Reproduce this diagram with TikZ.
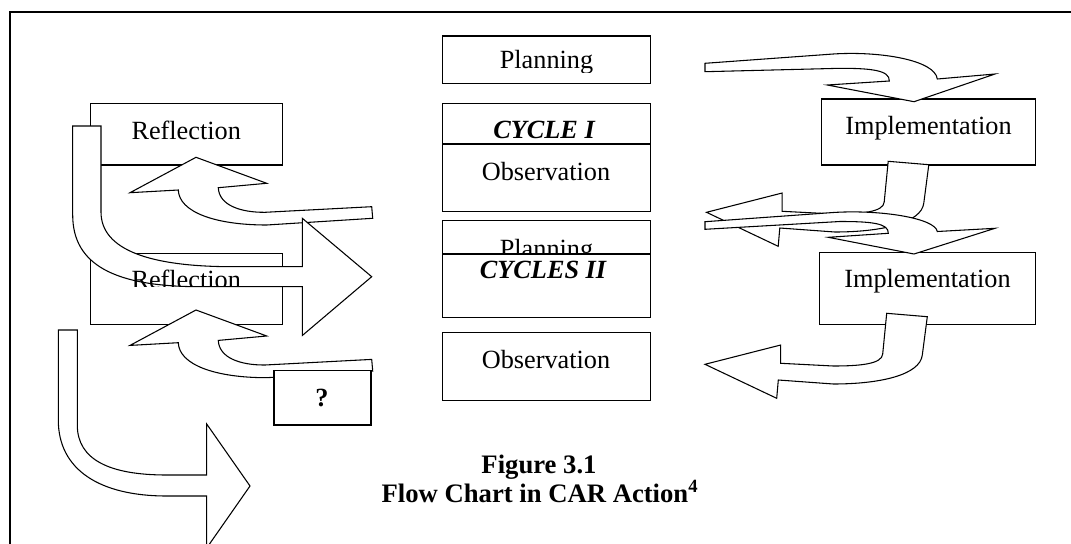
\documentclass[tikz,border=0pt]{standalone}
\usepackage{fontspec}
\setmainfont{Liberation Serif}
\usetikzlibrary{fit}
\tikzset{
  frameline/.style={line width=1.3pt},
  boxshape/.style={draw, line width=0.8pt, fill=white, inner sep=0pt, outer sep=0pt},
  boxtext/.style={anchor=base, inner sep=0pt, font=\fontsize{19.7}{23}\selectfont},
  boldtext/.style={anchor=base, inner sep=0pt, font=\fontsize{19.7}{23}\selectfont\bfseries},
  bitext/.style={anchor=base, inner sep=0pt, font=\fontsize{19.7}{23}\selectfont\bfseries\itshape},
  captext/.style={anchor=base, inner sep=0pt, font=\fontsize{20}{24}\selectfont\bfseries},
  blockarrow/.style={draw, fill=white, line width=0.8pt, line join=miter},
  upbent/.pic={
    \path[blockarrow] (196,157.3) -- (266.7,183.3) -- (218.3,187.7)
      .. controls (219,205) and (240,212.5) .. (265,212.3)
      -- (371.7,206.7) -- (372.7,218.3) -- (266.7,225)
      .. controls (215,225) and (179,212) .. (178.3,190)
      -- (130,192.7) -- cycle;
  },
  leftbent/.pic={
    \path[blockarrow] (886.7,313.3) -- (927.3,316.7) -- (922.3,355)
      .. controls (920,375) and (880,384) .. (833.3,384)
      -- (778.3,380) -- (776.7,398.3) -- (705,364.3) -- (780.7,345)
      -- (780.7,363.3) -- (833.3,366)
      .. controls (860,366) and (882,364) .. (882.7,354) -- cycle;
  }
}
\begin{document}
\begin{tikzpicture}[x=0.75pt,y=-0.75pt]
\useasboundingbox (0,0) rectangle (1071,543);
% frame
\coordinate (ftr) at (1080,12);
\coordinate (ftl) at (10,12);
\coordinate (fbl) at (10,550);
\draw[frameline] (ftr) -- (ftl) -- (fbl);

% centre column
\node[boxshape, fit={(442.3,36) (650.7,83.3)}] (plan1) {};
\begin{scope}
  \clip (440,30) rectangle (655,72.5);
  \node[boxtext] (plan1t) at (546.5,68.8) {Planning};
\end{scope}
\node[boxshape, fit={(442.3,103.3) (650.7,160)}] (cyc1) {};
\node[bitext] (cyc1t) at (544,138.3) {CYCLE I};
\node[boxshape, fit={(442.3,144) (650.7,211.7)}] (obs1) {};
\node[boxtext] (obs1t) at (546,180) {Observation};
\node[boxshape, fit={(442.3,220.7) (650.7,270)}] (plan2) {};
\node[boxtext] (plan2t) at (546.5,257) {Planning};
\node[boxshape, fit={(442.3,254) (650.7,317.3)}] (cyc2) {};
\node[bitext] (cyc2t) at (543,278.3) {CYCLES II};
\node[boxshape, fit={(442.3,332.3) (650.7,400.7)}] (obs2) {};
\node[boxtext] (obs2t) at (546,368.3) {Observation};

% left and right boxes
\node[boxshape, fit={(90.7,103.3) (282.7,165)}] (ref1) {};
\node[boxtext] (ref1t) at (186.2,139.3) {Reflection};
\node[boxshape, fit={(90.7,253.3) (282.7,324.3)}] (ref2) {};
\node[boxshape, fit={(821.7,99) (1035.7,165)}] (imp1) {};
\node[boxtext] (imp1t) at (928.5,134) {Implementation};
\node[boxshape, fit={(819.3,252.3) (1035.7,324.3)}] (imp2) {};
\node[boxtext] (imp2t) at (927.5,287) {Implementation};

% upward bent arrows into Reflection
\pic at (0,0) {upbent};
\pic at (0,152.7) {upbent};

% question box
\node[boxshape, fit={(274,370.7) (371,425)}] (qbox) {};
\node[boldtext] (qt) at (322,406.7) {?};

% big bent arrow from Reflection (cycle I)
\path[blockarrow] (72.7,126) -- (101,126) -- (101,212)
  .. controls (101,250) and (150,266.7) .. (233,266.7)
  -- (302.3,266.7) -- (302.3,218.3) -- (371.7,276.7) -- (302.3,335.5)
  -- (302.3,286.7) -- (200,286.7)
  .. controls (115,286.7) and (72.7,265) .. (72.7,215) -- cycle;
\begin{scope}
  \clip (80,250) rectangle (290,286.7);
  \node[boxtext] (ref2t) at (186.2,288.6) {Reflection};
\end{scope}

% big bent arrow from Reflection (cycle II)
\path[blockarrow] (58.3,330) -- (77.3,330) -- (77.3,425)
  .. controls (77.3,460) and (110,475) .. (166.7,475)
  -- (206.7,475) -- (206.7,424) -- (250,486) -- (206.7,548)
  -- (206.7,496) -- (166.7,496)
  .. controls (100,496) and (58.3,470) .. (58.3,420) -- cycle;

% Planning -> Implementation (cycle I)
\path[blockarrow] (705,63.3) -- (833.3,54)
  .. controls (880,51) and (935,60) .. (937.3,79)
  -- (995,74) -- (914,101.7) -- (827.3,85) -- (889.3,81)
  .. controls (890,70) and (870,68.3) .. (840,68.3)
  -- (705,71.7) -- cycle;

% Implementation -> Observation (cycle I)
\pic at (1.5,-152) {leftbent};

% Planning -> Implementation (cycle II)
\path[blockarrow] (705,221.7) -- (833.3,212.5)
  .. controls (880,209.5) and (935,218) .. (937.3,231.5)
  -- (995,228.3) -- (914,254) -- (828.3,237.3) -- (888.3,233.3)
  .. controls (889,223) and (870,221.5) .. (840,221.5)
  -- (705,229.3) -- cycle;

% Implementation -> Observation (cycle II)
\pic at (0,0) {leftbent};

% caption
\node[captext] (cap1) at (539,473.3) {Figure 3.1};
\node[captext] (cap2) at (540,502.7) {Flow Chart in CAR Action\textsuperscript{4}};
\end{tikzpicture}
\end{document}
